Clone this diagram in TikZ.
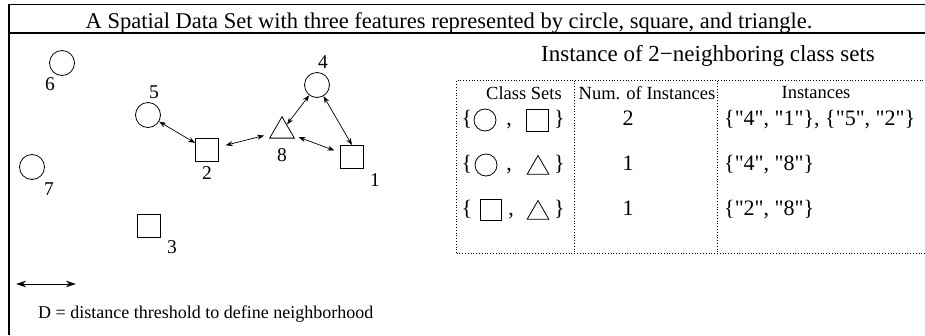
\documentclass[tikz,border=0pt]{standalone}
\usepackage{fontspec}
\setmainfont{Liberation Serif}
\newfontfamily\plainserif{Liberation Serif}
\usetikzlibrary{shapes.geometric,arrows.meta}

\tikzset{
  circ/.style={draw,circle,minimum size=25pt,inner sep=0pt,line width=0.8pt},
  sqr/.style={draw,rectangle,minimum size=23pt,inner sep=0pt,line width=0.8pt},
  tri/.style={draw,regular polygon,regular polygon sides=3,minimum size=28.5pt,inner sep=0pt,line width=0.8pt},
  lbl/.style={font=\fontsize{19.5}{21}\selectfont,inner sep=0pt},
  txt/.style={font=\fontsize{18}{20}\selectfont,inner sep=0pt},
  cell/.style={font=\fontsize{22}{24}\plainserif,inner sep=0pt,anchor=base},
  head/.style={font=\fontsize{18.5}{20}\selectfont,inner sep=0pt},
  link/.style={{Stealth[length=7pt,width=5pt]}-{Stealth[length=7pt,width=5pt]},line width=0.7pt},
  tbl/.style={dotted,line width=0.8pt},
}

\begin{document}
\begin{tikzpicture}[x=1pt,y=-1pt]
        \useasboundingbox (0,0) rectangle (925,335);

        % Frame and title
        \draw[line width=1.2pt] (9,335) -- (9,4.5) -- (925,4.5);
        \draw[line width=1.2pt] (9,33) -- (925,33);
        \node[font=\fontsize{22.5}{24}\selectfont,inner sep=0pt,anchor=base] (title) at (449,28.3) {A Spatial Data Set with three features represented by circle, square, and triangle.};

        % The features
        \node[circ] (c6) at (62,63) {};
        \node[circ] (c7) at (32,167) {};
        \node[circ] (c5) at (148,115) {};
        \node[circ] (c4) at (317,85) {};
        \node[sqr] (s2) at (207,150) {};
        \node[sqr] (s1) at (352,157) {};
        \node[sqr] (s3) at (149,226) {};
        \node[tri] (t8) at (282,131) {};

        % Feature numbers
        \node[lbl] (n6) at (50,84) {6};
        \node[lbl] (n7) at (49,189) {7};
        \node[lbl] (n5) at (154,92) {5};
        \node[lbl] (n4) at (323,62) {4};
        \node[lbl] (n2) at (207,173) {2};
        \node[lbl] (n1) at (375,180) {1};
        \node[lbl] (n3) at (172,247) {3};
        \node[lbl] (n8) at (282,155) {8};

        % Neighbor relations
        \draw[link] (c5) -- (s2);
        \draw[link,shorten <=7pt,shorten >=8pt] (s2) -- (t8);
        \draw[link] (t8) -- (c4);
        \draw[link] (c4) -- (s1.north);
        \draw[link,shorten <=6pt,shorten >=6pt] (t8) -- (s1);

        % Distance threshold
        \coordinate (d1) at (16,284);
        \coordinate (d2) at (76,284);
        \draw[{Stealth[length=10pt,width=6.5pt]}-{Stealth[length=10pt,width=6.5pt]},line width=1pt] (d1) -- (d2);
        \node[txt,anchor=base west] (dtext) at (38,318.3) {D = distance threshold to define neighborhood};

        % Table of 2-neighboring class sets
        \node[font=\fontsize{23}{25}\selectfont,inner sep=0pt,anchor=base] (ttitle) at (708,61.7) {Instance of 2−neighboring class sets};
        \draw[tbl] (456.5,253) -- (456.5,80.5) -- (925,80.5);
        \draw[tbl] (456.5,253) -- (925,253);
        \draw[tbl] (574,80.5) -- (574,253);
        \draw[tbl] (717,80.5) -- (717,253);
        \node[head] (h1) at (524,93) {Class Sets};
        \node[head] (h2) at (647,93) {Num. of Instances};
        \node[head] (h3) at (816,93) {Instances};

        % Row 1
        \node[cell] (b1) at (467,125) {\{};
        \node[circ,minimum size=22pt] (rc1) at (485,120) {};
        \node[cell] (k1) at (509,125) {,};
        \node[sqr,minimum size=21.5pt] (rs1) at (537.5,120.5) {};
        \node[cell] (e1) at (559.5,125) {\}};
        \node[cell] (m1) at (628,125) {2};
        \node[cell,anchor=base west] (i1) at (724,125) {\{"4", "1"\}, \{"5", "2"\}};

        % Row 2
        \node[cell] (b2) at (467,170) {\{};
        \node[circ,minimum size=22pt] (rc2) at (486,165) {};
        \node[cell] (k2) at (509,170) {,};
        \node[tri,minimum size=25pt] (rt2) at (538,168) {};
        \node[cell] (e2) at (559.5,170) {\}};
        \node[cell] (m2) at (628,170) {1};
        \node[cell,anchor=base west] (i2) at (724,170) {\{"4", "8"\}};

        % Row 3
        \node[cell] (b3) at (467,215) {\{};
        \node[sqr,minimum size=21.5pt] (rs3) at (491,210) {};
        \node[cell] (k3) at (511,215) {,};
        \node[tri,minimum size=25pt] (rt3) at (538,213) {};
        \node[cell] (e3) at (559.5,215) {\}};
        \node[cell] (m3) at (628,215) {1};
        \node[cell,anchor=base west] (i3) at (724,215) {\{"2", "8"\}};
    \end{tikzpicture}
\end{document}
